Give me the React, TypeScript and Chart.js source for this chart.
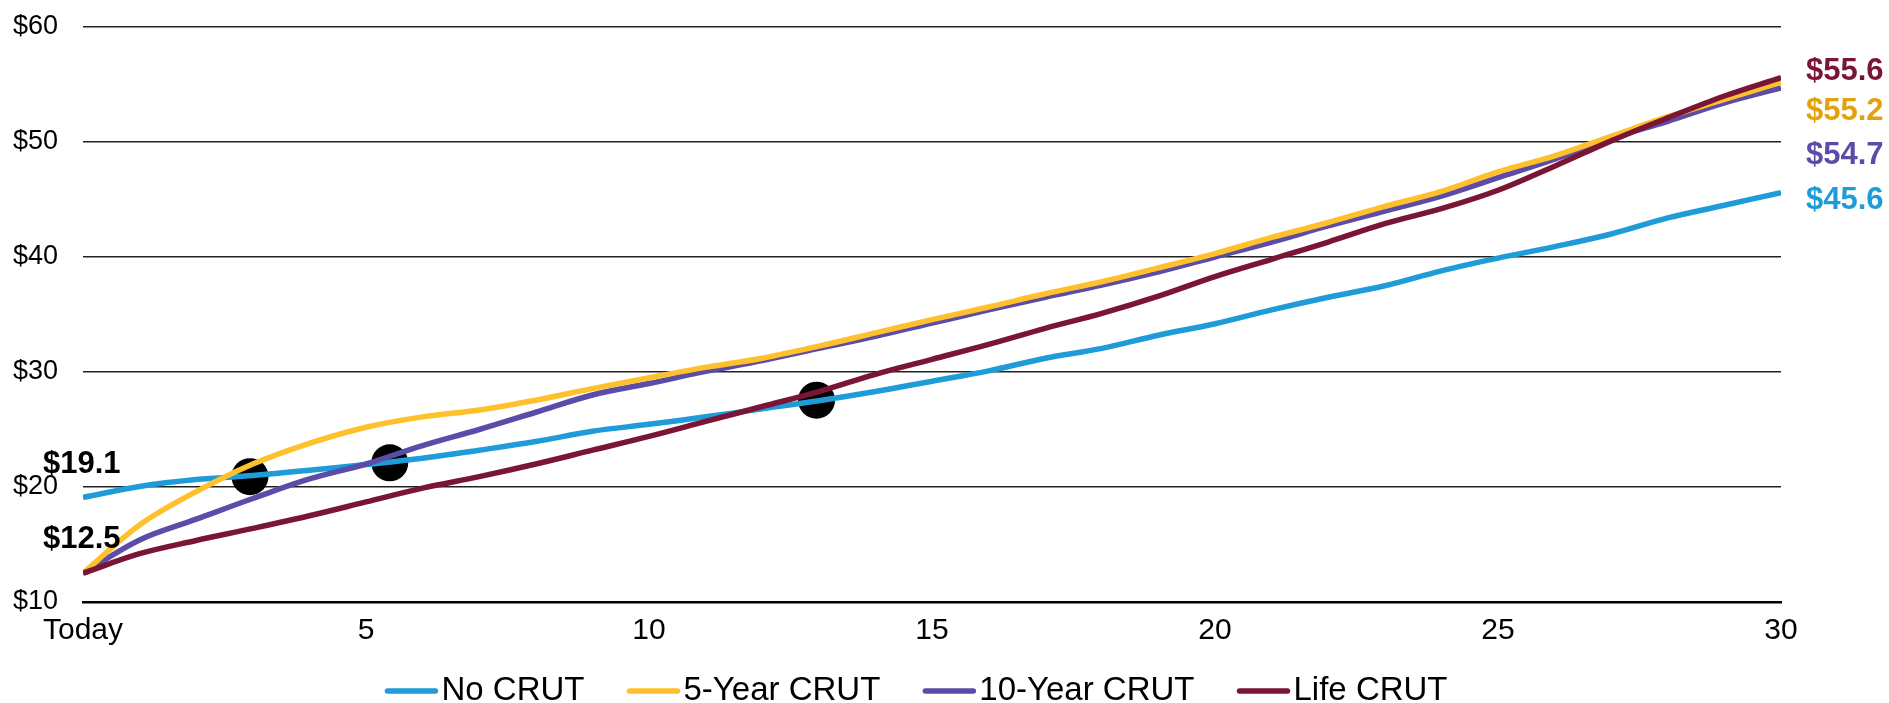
import React, { useEffect, useRef } from "react";
import { Chart, registerables } from "chart.js";

Chart.register(...registerables);

const FONT = "'Liberation Sans', Arial, Helvetica, sans-serif";

const years = [0, 1, 2, 3, 4, 5, 6, 7, 8, 9, 10, 11, 12, 13, 14, 15, 16, 17, 18, 19, 20, 21, 22, 23, 24, 25, 26, 27, 28, 29, 30];

const noCrut = [19.1, 20.05, 20.65, 21.0, 21.45, 21.95, 22.5, 23.2, 23.95, 24.85, 25.45, 26.1, 26.8, 27.5, 28.3, 29.2, 30.1, 31.2, 32.05, 33.2, 34.2, 35.4, 36.5, 37.5, 38.8, 39.9, 40.9, 42.0, 43.4, 44.5, 45.6];
const fiveYear = [12.5, 16.7, 19.6, 22.0, 23.8, 25.2, 26.1, 26.7, 27.55, 28.55, 29.5, 30.4, 31.2, 32.25, 33.4, 34.55, 35.65, 36.8, 37.85, 39.05, 40.3, 41.7, 43.0, 44.4, 45.7, 47.4, 48.8, 50.5, 52.2, 53.7, 55.2];
const tenYear = [12.5, 15.4, 17.2, 19.0, 20.7, 22.0, 23.6, 25.0, 26.5, 28.0, 29.0, 30.05, 31.0, 32.05, 33.1, 34.25, 35.4, 36.5, 37.55, 38.7, 40.0, 41.3, 42.7, 44.0, 45.3, 46.9, 48.5, 50.3, 51.8, 53.4, 54.7];
const lifeCrut = [12.5, 14.2, 15.35, 16.4, 17.5, 18.7, 19.9, 20.9, 22.0, 23.2, 24.4, 25.7, 27.0, 28.3, 29.8, 31.1, 32.4, 33.8, 35.1, 36.6, 38.3, 39.8, 41.3, 42.9, 44.2, 45.8, 47.9, 50.1, 52.1, 54.0, 55.6];

const seriesNames = ["No CRUT", "5-Year CRUT", "10-Year CRUT", "Life CRUT"];
const seriesColors = ["#1F9CD8", "#FFC12B", "#5B4CA8", "#7B1535"];

const dotYears = [2.95, 5.42, 12.96];
const dotValues = [20.9, 22.1, 27.55];

const endLabels = ["$55.6", "$55.2", "$54.7", "$45.6"];
const endLabelColors = ["#7B1535", "#E3A20C", "#5B4CA8", "#1F9CD8"];
const startLabels = ["$19.1", "$12.5"];

const yMin = 10;
const yMax = 60;
const yStep = 10;
const xTickStep = 5;
const xFirstTickLabel = "Today";

const toPoints = (vals: number[]) => years.map((x, i) => ({ x, y: vals[i] }));

const overlayPlugin = {
  id: "overlayLabels",
  afterDraw(chart: any) {
    const { ctx, chartArea } = chart;
    ctx.save();
    // end labels
    ctx.font = `bold 31px ${FONT}`;
    ctx.textBaseline = "middle";
    ctx.textAlign = "left";
    const endY = [71, 111, 155, 200];
    endLabels.forEach((t, i) => {
      ctx.fillStyle = endLabelColors[i];
      ctx.fillText(t, chartArea.right + 25, endY[i]);
    });
    // start labels
    ctx.font = `bold 31px ${FONT}`;
    ctx.fillStyle = "#000";
    const startY = [464, 539];
    startLabels.forEach((t, i) => ctx.fillText(t, chartArea.left - 40, startY[i]));

    // legend
    ctx.font = `33px ${FONT}`;
    const lineLen = 54;
    const gap = 3;
    const itemGap = 42;
    const widths = seriesNames.map((n) => ctx.measureText(n).width);
    const total = widths.reduce((a, w) => a + lineLen + gap + w, 0) + itemGap * (seriesNames.length - 1);
    let x = 916 - total / 2;
    const y = 691;
    seriesNames.forEach((n, i) => {
      ctx.strokeStyle = seriesColors[i];
      ctx.lineWidth = 5.5;
      ctx.lineCap = "round";
      ctx.beginPath();
      ctx.moveTo(x + 3, y);
      ctx.lineTo(x + lineLen - 3, y);
      ctx.stroke();
      ctx.fillStyle = "#000";
      ctx.textBaseline = "middle";
      ctx.fillText(n, x + lineLen + gap, y);
      x += lineLen + gap + widths[i] + itemGap;
    });
    ctx.restore();
  },
};

export default function App() {
  const canvasRef = useRef<HTMLCanvasElement | null>(null);

  useEffect(() => {
    const canvas = canvasRef.current;
    if (!canvas) return;
    const series = [noCrut, fiveYear, tenYear, lifeCrut];
    const orders = [4, 2, 3, 1];
    const datasets: any[] = series.map((vals, i) => ({
      label: seriesNames[i],
      data: toPoints(vals),
      borderColor: seriesColors[i],
      backgroundColor: seriesColors[i],
      borderWidth: 5.5,
      pointRadius: 0,
      tension: 0.35,
      fill: false,
      order: orders[i],
    }));
    datasets.push({
      label: "markers",
      data: dotYears.map((x, i) => ({ x, y: dotValues[i] })),
      showLine: false,
      pointRadius: 18.5,
      pointHoverRadius: 18.5,
      pointBackgroundColor: "#000",
      pointBorderColor: "#000",
      pointBorderWidth: 0,
      borderColor: "#000",
      backgroundColor: "#000",
      order: 10,
    });

    const chart = new Chart(canvas, {
      type: "line",
      data: { datasets },
      options: {
        responsive: false,
        animation: false,
        maintainAspectRatio: false,
        layout: { padding: { left: 0, right: 108, top: 27, bottom: 0 } },
        plugins: {
          legend: { display: false },
          tooltip: { enabled: false },
        },
        scales: {
          x: {
            type: "linear",
            min: 0,
            max: 30,
            afterFit: (scale: any) => {
              scale.height = 101;
            },
            ticks: {
              stepSize: xTickStep,
              color: "#000",
              font: { family: FONT, size: 30 },
              padding: 11,
              maxRotation: 0,
              callback: (v: any) => (Number(v) === 0 ? xFirstTickLabel : String(v)),
            },
            grid: { display: false, drawTicks: false },
            border: { display: true, color: "#000", width: 2.5 },
          },
          y: {
            type: "linear",
            min: yMin,
            max: yMax,
            afterFit: (scale: any) => {
              scale.width = 83;
              scale.paddingTop = 0;
              scale.paddingBottom = 0;
            },
            ticks: {
              stepSize: yStep,
              color: "#000",
              font: { family: FONT, size: 27 },
              padding: 25,
              callback: (v: any) => "$" + v,
            },
            grid: { color: "#222", lineWidth: 1.5, drawTicks: false },
            border: { display: false },
          },
        },
      },
      plugins: [overlayPlugin],
    });
    return () => chart.destroy();
  }, []);

  return (
    <div style={{ position: "fixed", left: 0, top: 0, width: 1889, height: 703, background: "#fff" }}>
      <canvas ref={canvasRef} width={1889} height={703} style={{ width: 1889, height: 703, display: "block" }} />
    </div>
  );
}
